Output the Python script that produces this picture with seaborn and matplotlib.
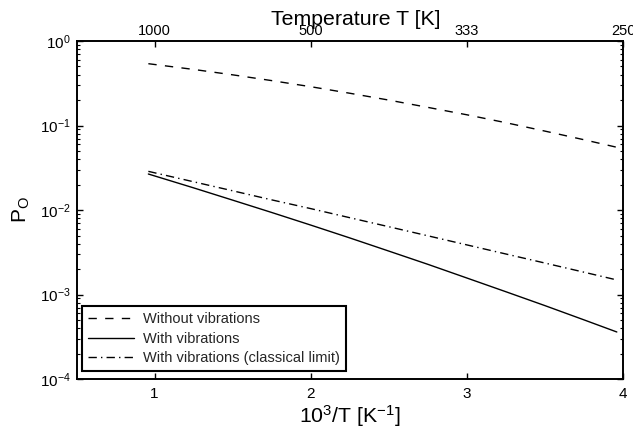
import numpy as np
import pandas as pd
import matplotlib
matplotlib.use("Agg")
import matplotlib.pyplot as plt
import seaborn as sns
from matplotlib.ticker import LogLocator, FixedLocator, FixedFormatter, NullLocator

# ---- data ----
inv_T = [0.96, 1.25, 1.5, 1.75, 2.0, 2.25, 2.5, 2.75, 3.0, 3.25, 3.5, 3.75, 3.96]
p_without_vib = [0.539, 0.461, 0.398, 0.340, 0.288, 0.241, 0.200, 0.164,
                 0.134, 0.108, 0.0859, 0.0679, 0.0553]
p_with_vib = [0.0267, 0.0183, 0.0131, 0.00936, 0.00664, 0.00468, 0.00327,
              0.00228, 0.00157, 0.00108, 0.00074, 0.000502, 0.000361]
p_classical = [0.0287, 0.0216, 0.0169, 0.0132, 0.0104, 0.00812, 0.00635,
               0.00496, 0.00387, 0.00302, 0.00236, 0.00184, 0.00149]

series_names = ["Without vibrations", "With vibrations",
                "With vibrations (classical limit)"]
top_tick_pos = [1, 2, 3, 4]
top_tick_labels = ["1000", "500", "333", "250"]
bottom_ticks = [1, 2, 3, 4]

sns.set_theme(style="ticks")
plt.rcParams["font.family"] = ["Liberation Sans", "DejaVu Sans"]
plt.rcParams["mathtext.fontset"] = "custom"
plt.rcParams["mathtext.rm"] = "Liberation Sans"
plt.rcParams["mathtext.it"] = "Liberation Sans:italic"
plt.rcParams["mathtext.bf"] = "Liberation Sans:bold"

fig = plt.figure(figsize=(6.33, 4.29), dpi=100)
ax = fig.add_axes([0.1209, 0.1163, 0.8634, 0.7881])

styles = [dict(linestyle=(0, (6, 6))),
          dict(linestyle="-"),
          dict(linestyle=(0, (6, 3, 1, 3)))]
for name, vals, st in zip(series_names, [p_without_vib, p_with_vib, p_classical], styles):
    df = pd.DataFrame({"x": inv_T, "y": vals})
    sns.lineplot(data=df, x="x", y="y", ax=ax, color="black", linewidth=1.0,
                 label=name, **st)

ax.set_yscale("log")
ax.set_xlim(0.5, 4)
ax.set_ylim(1e-4, 1)
ax.xaxis.set_major_locator(FixedLocator(bottom_ticks))
ax.xaxis.set_minor_locator(NullLocator())
ax.yaxis.set_major_locator(LogLocator(base=10, numticks=10))
ax.yaxis.set_minor_locator(LogLocator(base=10, subs=np.arange(2, 10), numticks=10))
ax.set_xticklabels([str(t) for t in bottom_ticks])

ax.tick_params(axis="both", which="major", direction="in", length=4.5, width=1,
               labelsize=11, color="black", labelcolor="black", right=True)
ax.tick_params(axis="y", which="minor", direction="in", length=2.5, width=0.8,
               right=True, color="black")
ax.tick_params(axis="x", which="major", pad=6)
ax.tick_params(axis="y", which="major", pad=4)

for s in ax.spines.values():
    s.set_visible(True)
    s.set_linewidth(1.2)
    s.set_color("black")

ax.set_xlabel(r"10$^{3}$/T [K$^{-1}$]", fontsize=15.3, labelpad=1, color="black")
ax.set_ylabel(r"P$_{\mathrm{O}}$", fontsize=15, labelpad=6, color="black")

# top axis: temperature
ax2 = ax.twiny()
ax2.set_xlim(ax.get_xlim())
ax2.xaxis.set_major_locator(FixedLocator(top_tick_pos))
ax2.xaxis.set_major_formatter(FixedFormatter(top_tick_labels))
ax2.xaxis.set_minor_locator(NullLocator())
ax2.tick_params(axis="x", which="major", direction="in", length=4.5, width=1,
                labelsize=10.5, pad=2, color="black", labelcolor="black")
ax2.set_xlabel("Temperature T [K]", fontsize=15.3, color="black")
ax2.xaxis.set_label_coords(0.511, 1.046)
for s in ax2.spines.values():
    s.set_linewidth(1.2)
    s.set_color("black")

leg = ax.legend(loc="lower left", bbox_to_anchor=(0.01, 0.024), fontsize=10.5,
                frameon=True, fancybox=False, edgecolor="black",
                handlelength=3.2, handletextpad=0.6, borderpad=0.4,
                labelspacing=0.38, borderaxespad=0.0)
leg.get_frame().set_linewidth(1.5)
leg.get_frame().set_alpha(1)

fig.savefig("out.png", dpi=100)
